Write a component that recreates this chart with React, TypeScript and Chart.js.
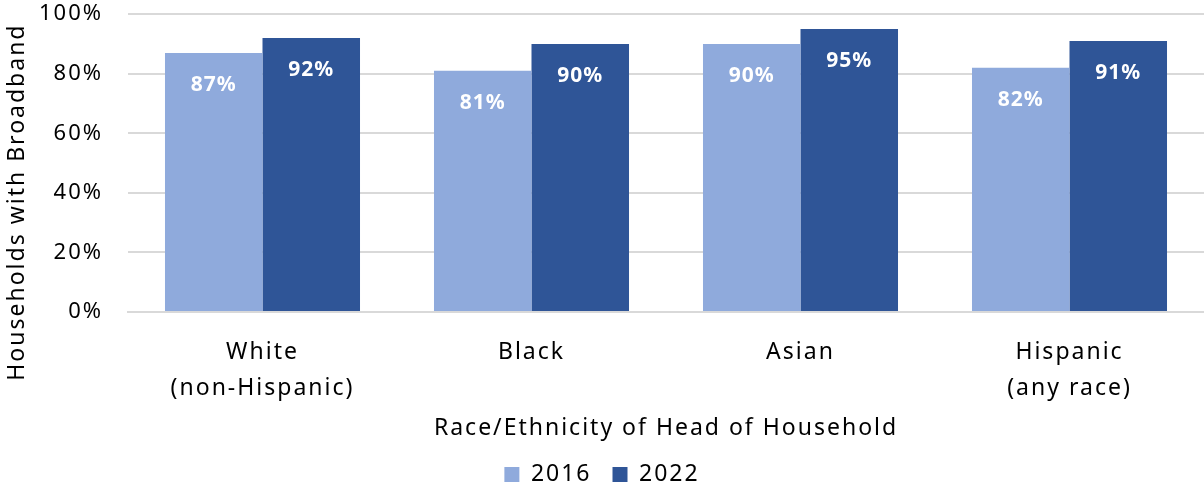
import React, { useEffect, useRef } from "react";
import { Chart, registerables } from "chart.js";
Chart.register(...registerables);

const categories: (string | string[])[] = [["White", "(non-Hispanic)"], "Black", "Asian", ["Hispanic", "(any race)"]];
const seriesLabels = ["2016", "2022"];
const values2016 = [87, 81, 90, 82];
const values2022 = [92, 90, 95, 91];
const yTicks = [0, 20, 40, 60, 80, 100];
const yTitle = "Households with Broadband";
const xTitle = "Race/Ethnicity of Head of Household";
const FONT = "'Noto Sans', 'Open Sans', sans-serif";
const SPACING = "2px";

const spacingPlugin = {
  id: "spacing",
  beforeLayout(chart: any) { chart.ctx.letterSpacing = SPACING; },
  beforeDraw(chart: any) { chart.ctx.letterSpacing = SPACING; },
};

const yTitlePlugin = {
  id: "yTitle",
  afterDraw(chart: any) {
    const { ctx, chartArea } = chart;
    ctx.save();
    ctx.letterSpacing = SPACING;
    ctx.fillStyle = "#000";
    ctx.font = `23px ${FONT}`;
    ctx.textAlign = "center";
    ctx.textBaseline = "middle";
    ctx.translate(17, (chartArea.top + chartArea.bottom) / 2 + 39);
    ctx.rotate(-Math.PI / 2);
    ctx.fillText(yTitle, 0, 0);
    ctx.restore();
  },
};

const labelPlugin = {
  id: "barLabels",
  afterDatasetsDraw(chart: any) {
    const ctx = chart.ctx;
    ctx.save();
    ctx.letterSpacing = "1px";
    ctx.fillStyle = "#ffffff";
    ctx.font = `bold 21px ${FONT}`;
    ctx.textAlign = "center";
    ctx.textBaseline = "middle";
    chart.data.datasets.forEach((ds: any, di: number) => {
      const meta = chart.getDatasetMeta(di);
      meta.data.forEach((bar: any, i: number) => {
        ctx.fillText(`${ds.data[i]}%`, bar.x, bar.y + 32);
      });
    });
    ctx.restore();
  },
};

function makeConfig(): any {
  return {
    type: "bar",
    data: {
      labels: categories,
      datasets: [
        { label: seriesLabels[0], data: values2016, backgroundColor: "#8FAADC", categoryPercentage: 0.725, barPercentage: 1.0 },
        { label: seriesLabels[1], data: values2022, backgroundColor: "#2F5597", categoryPercentage: 0.725, barPercentage: 1.0 },
      ],
    },
    options: {
      animation: false,
      responsive: false,
      maintainAspectRatio: false,
      layout: { padding: { top: 4, left: 0, right: 0, bottom: 0 } },
      plugins: {
        tooltip: { enabled: false },
        legend: {
          position: "bottom",
          labels: {
            boxWidth: 15,
            boxHeight: 15,
            color: "#000",
            font: { family: FONT, size: 23 },
            padding: 21,
          },
        },
      },
      scales: {
        x: {
          grid: { display: false },
          border: { color: "#d9d9d9", width: 2 },
          ticks: { color: "#000", font: { family: FONT, size: 23, lineHeight: 1.565 }, padding: 14, maxRotation: 0 },
          title: { display: true, text: xTitle, color: "#000", font: { family: FONT, size: 23 }, padding: { top: 4, bottom: 0 } },
          afterFit: (s: any) => { s.height = 130; },
        },
        y: {
          min: 0,
          max: 100,
          afterBuildTicks: (s: any) => { s.ticks = yTicks.map((v) => ({ value: v })); },
          grid: { color: "#d9d9d9", lineWidth: 2, drawTicks: false },
          border: { display: false },
          ticks: { color: "#000", font: { family: FONT, size: 22 }, padding: 25, callback: (v: any) => `${v}%` },
          afterFit: (s: any) => { s.width = 128; },
        },
      },
    },
    plugins: [spacingPlugin, labelPlugin, yTitlePlugin],
  };
}

export default function App() {
  const ref = useRef<HTMLCanvasElement>(null);
  useEffect(() => {
    const canvas = ref.current;
    if (!canvas) return;
    const H0 = canvas.height;
    let chart = new Chart(canvas, makeConfig());
    const t = chart.chartArea.top;
    const b = chart.chartArea.bottom;
    chart.destroy();
    const T = Math.round(t - 14);
    const H = Math.round(H0 + 312 + T - b);
    canvas.width = 1204;
    canvas.height = H;
    canvas.style.width = "1204px";
    canvas.style.height = H + "px";
    canvas.style.top = -T + "px";
    chart = new Chart(canvas, makeConfig());
    return () => chart.destroy();
  }, []);
  return (
    <div style={{ position: "fixed", left: 0, top: 0, width: 1204, height: 487, background: "#fff", overflow: "hidden" }}>
      <canvas ref={ref} width={1204} height={487} style={{ position: "absolute", left: 0, top: 0, width: 1204, height: 487 }} />
    </div>
  );
}
